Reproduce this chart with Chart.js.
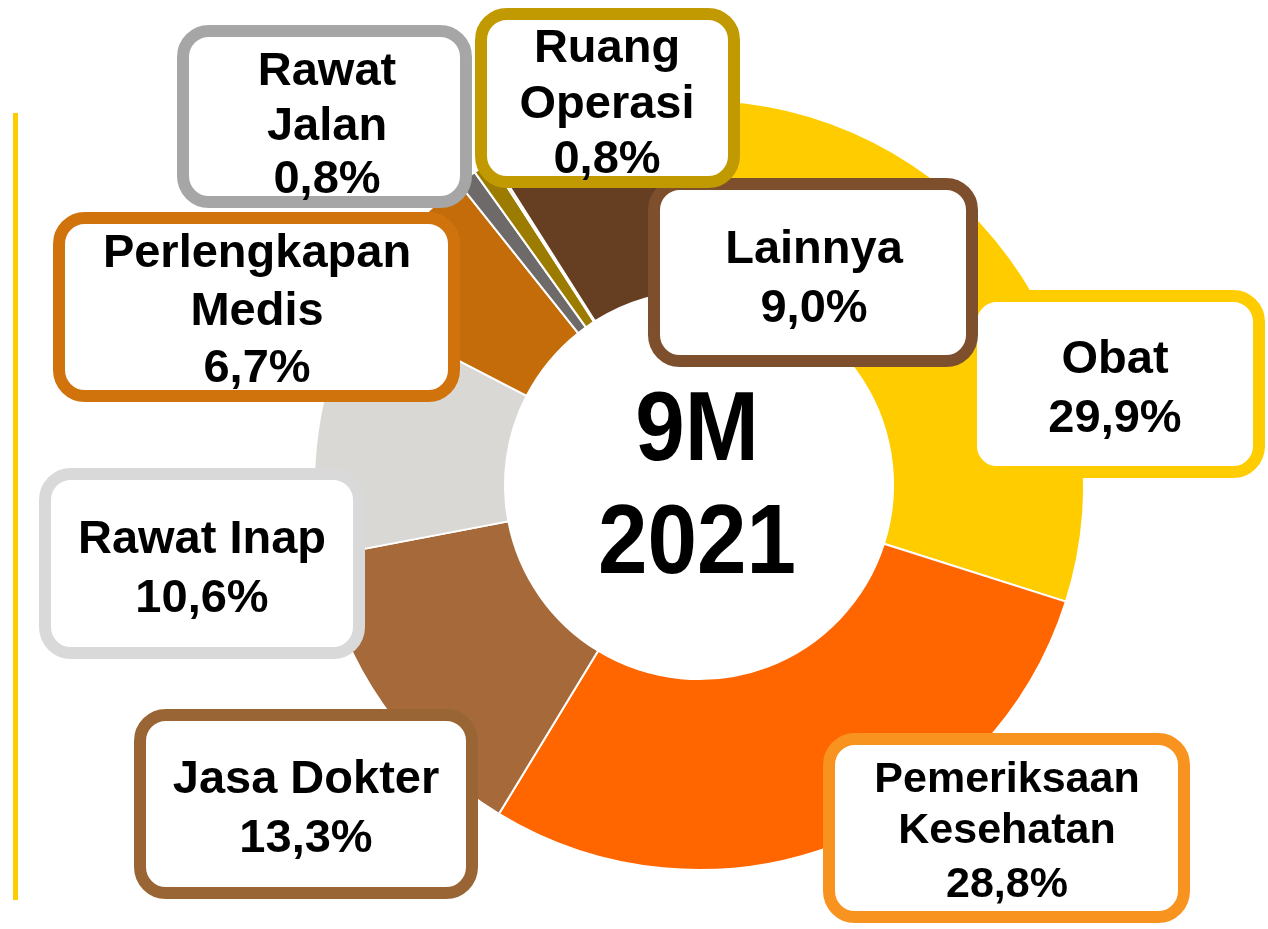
<!DOCTYPE html>
<html><head><meta charset="utf-8">
<script src="https://cdn.jsdelivr.net/npm/chart.js@4/dist/chart.umd.min.js"></script>
<style>html,body{margin:0;padding:0;background:#fff;}#wrap{position:relative;width:1268px;height:929px;}</style>
</head><body><div id="wrap"><canvas id="c" width="1268" height="929"></canvas></div>
<script>
// ---- data ----
const categories = ['Obat', 'Pemeriksaan Kesehatan', 'Jasa Dokter', 'Rawat Inap', 'Perlengkapan Medis', 'Rawat Jalan', 'Ruang Operasi', '', 'Lainnya'];
const values = [29.9, 28.8, 13.3, 10.6, 6.7, 0.8, 0.8, 0.1, 9.0];
const centerLines = ['9M', '2021'];

// ---- styles ----
const sliceColors = ['#FFCC00', '#FF6600', '#A66A3A', '#D9D8D5', '#C46C0A', '#6E6A6A', '#9C7C00', '#C4620A', '#663F23'];
const boxColors = ['#FFCC00', '#F7931E', '#996535', '#D9D9D9', '#D0730C', '#A6A6A6', '#C09A00', null, '#7E4F2D'];

// label box layout (drawing order matters)
const boxLayout = [
  {i: 0, box: [965, 290, 1265, 478], cx: 1115, base: [373, 432], font: 47, split: false},
  {i: 8, box: [648, 178, 978, 367], cx: 814, base: [263, 322], font: 47, split: false},
  {i: 6, box: [475, 8, 740, 188], cx: 607, base: [62, 118, 173], font: 47, split: true},
  {i: 5, box: [177, 25, 472, 208], cx: 327, base: [85, 140, 193], font: 47, split: true},
  {i: 4, box: [53, 212, 460, 402], cx: 257, base: [267, 325, 382], font: 47, split: true},
  {i: 3, box: [39, 468, 365, 659], cx: 202, base: [553, 612], font: 47, split: false},
  {i: 2, box: [134, 709, 478, 899], cx: 306, base: [793, 852], font: 47, split: false},
  {i: 1, box: [823, 733, 1190, 923], cx: 1007, base: [792, 843, 897], font: 43, split: true}
];

function fmtPct(v) { return v.toFixed(1).replace('.', ',') + '%'; }

function roundRect(ctx, x, y, w, h, r) {
  ctx.beginPath();
  ctx.moveTo(x + r, y);
  ctx.lineTo(x + w - r, y);
  ctx.arcTo(x + w, y, x + w, y + r, r);
  ctx.lineTo(x + w, y + h - r);
  ctx.arcTo(x + w, y + h, x + w - r, y + h, r);
  ctx.lineTo(x + r, y + h);
  ctx.arcTo(x, y + h, x, y + h - r, r);
  ctx.lineTo(x, y + r);
  ctx.arcTo(x, y, x + r, y, r);
  ctx.closePath();
}

const overlayPlugin = {
  id: 'overlay',
  afterDraw(chart) {
    const ctx = chart.ctx;
    ctx.save();
    // left accent line
    ctx.fillStyle = '#FFCC00';
    ctx.fillRect(13, 113, 5, 787);

    // center text
    const meta = chart.getDatasetMeta(0);
    const arc = meta.data[0];
    const cx = arc.x;
    ctx.fillStyle = '#000';
    ctx.textAlign = 'center';
    ctx.textBaseline = 'alphabetic';
    ctx.font = 'bold 89px "Liberation Sans", Arial, sans-serif';
    const cBase = [460, 573];
    centerLines.forEach((t, k) => {
      ctx.save();
      ctx.translate(cx - 2, cBase[k]);
      ctx.scale(1, 1.1);
      ctx.fillText(t, 0, 0);
      ctx.restore();
    });

    // label boxes
    const bw = 12;
    boxLayout.forEach(b => {
      const [x1, y1, x2, y2] = b.box;
      roundRect(ctx, x1 + bw / 2, y1 + bw / 2, x2 - x1 - bw, y2 - y1 - bw, 26);
      ctx.fillStyle = '#fff';
      ctx.fill();
      ctx.lineWidth = bw;
      ctx.strokeStyle = boxColors[b.i];
      ctx.stroke();
      const name = categories[b.i];
      const lines = (b.split ? name.split(' ') : [name]).concat([fmtPct(values[b.i])]);
      ctx.fillStyle = '#000';
      ctx.font = 'bold ' + b.font + 'px "Liberation Sans", Arial, sans-serif';
      ctx.textAlign = 'center';
      lines.forEach((t, k) => ctx.fillText(t, b.cx, b.base[k]));
    });
    ctx.restore();
  }
};

new Chart(document.getElementById('c'), {
  type: 'doughnut',
  data: {
    labels: categories,
    datasets: [{
      data: values,
      backgroundColor: sliceColors,
      borderColor: '#ffffff',
      borderWidth: 2,
      hoverOffset: 0
    }]
  },
  options: {
    responsive: false,
    maintainAspectRatio: false,
    animation: false,
    cutout: '50.4%',
    layout: {padding: {left: 313, right: 183, top: 99, bottom: 58}},
    plugins: {legend: {display: false}, tooltip: {enabled: false}}
  },
  plugins: [overlayPlugin]
});
</script>
</body></html>
